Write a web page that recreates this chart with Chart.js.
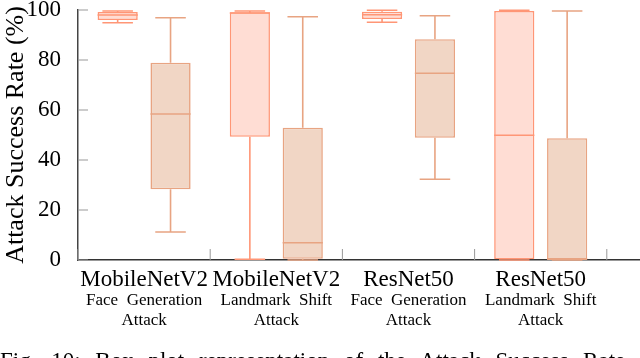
<!DOCTYPE html>
<html lang="en">
<head>
<meta charset="UTF-8">
<title>Attack Success Rate</title>
<script src="https://cdn.jsdelivr.net/npm/chart.js"></script>
<style>
  html, body { margin: 0; padding: 0; overflow: hidden; background: #fff; }
  #wrap { position: relative; width: 740px; height: 358px; }
  #caption { position: absolute; left: 0; top: 348px; font: 23px "Liberation Serif", serif; white-space: nowrap; word-spacing: 9px; line-height: 26px; }
</style>
</head>
<body>
<div id="wrap">
  <canvas id="grafico"></canvas>
  <div id="caption">Fig. 10: Box plot representation of the Attack Success Rate</div>
</div>

<script>
// categories (last one is empty, the reference is cut on the right)
const categorias = ['MobileNetV2', 'MobileNetV2', 'ResNet50', 'ResNet50', ''];
const subtitulos = [['Face  Generation', 'Attack'], ['Landmark  Shift', 'Attack'],
                    ['Face  Generation', 'Attack'], ['Landmark  Shift', 'Attack'], []];
const ticksY = [0, 20, 40, 60, 80, 100];

// left boxes
const aMin = [94.9, 0.3, 95.1, 0.0, null];
const aQ1  = [96.0, 49.3, 96.4, 0.3, null];
const aMed = [98.0, 98.8, 98.1, 49.9, null];
const aQ3  = [99.2, 99.1, 99.3, 99.6, null];
const aMax = [99.6, 99.6, 99.9, 99.9, null];

// right boxes
const bMin = [11.2, 0.0, 32.3, 0.0, null];
const bQ1  = [28.3, 0.5, 48.9, 0.0, null];
const bMed = [58.4, 6.9, 74.7, 0.5, null];
const bQ3  = [78.9, 52.9, 88.3, 48.7, null];
const bMax = [96.9, 97.3, 97.7, 99.6, null];

const caixas = (q1, q3) => q1.map((v, i) => v === null ? null : [v, q3[i]]);

const series = [
  { min: aMin, med: aMed, max: aMax, q1: aQ1, q3: aQ3, fill: '#FFDDD4', line: '#FF9676' },
  { min: bMin, med: bMed, max: bMax, q1: bQ1, q3: bQ3, fill: '#F1D6C5', line: '#E8A482' }
];

const fonte = '"Liberation Serif", "DejaVu Serif", serif';

// whiskers, medians, inward ticks, second line of x labels
const boxPlugin = {
  id: 'boxPlugin',
  afterDatasetsDraw(chart) {
    const ctx = chart.ctx;
    const y = chart.scales.y;
    const x = chart.scales.x;
    ctx.save();
    series.forEach((s, d) => {
      chart.getDatasetMeta(d).data.forEach((bar, i) => {
        if (s.min[i] === null) return;
        const cx = bar.x, w = bar.width, cap = w * 0.38;
        ctx.strokeStyle = s.line;
        ctx.lineWidth = 1.6;
        ctx.beginPath();
        ctx.moveTo(cx, y.getPixelForValue(s.q3[i]));
        ctx.lineTo(cx, y.getPixelForValue(s.max[i]));
        ctx.moveTo(cx, y.getPixelForValue(s.q1[i]));
        ctx.lineTo(cx, y.getPixelForValue(s.min[i]));
        ctx.moveTo(cx - cap, y.getPixelForValue(s.max[i]));
        ctx.lineTo(cx + cap, y.getPixelForValue(s.max[i]));
        ctx.moveTo(cx - cap, y.getPixelForValue(s.min[i]));
        ctx.lineTo(cx + cap, y.getPixelForValue(s.min[i]));
        ctx.moveTo(cx - w / 2, y.getPixelForValue(s.med[i]));
        ctx.lineTo(cx + w / 2, y.getPixelForValue(s.med[i]));
        ctx.stroke();
      });
    });

    // ticks pointing into the plot
    ctx.strokeStyle = '#999';
    ctx.lineWidth = 1;
    ctx.beginPath();
    ticksY.forEach(v => {
      const py = y.getPixelForValue(v);
      ctx.moveTo(x.left, py);
      ctx.lineTo(x.left + 10, py);
    });
    for (let i = 0; i < categorias.length; i++) {
      const px = x.getPixelForValue(i - 0.5);
      ctx.moveTo(px, y.bottom);
      ctx.lineTo(px, y.bottom - 11);
    }
    ctx.stroke();
    ctx.restore();
  },
  afterDraw(chart) {
    const ctx = chart.ctx;
    const x = chart.scales.x;
    const base = chart.scales.y.bottom;
    ctx.save();
    ctx.fillStyle = '#000';
    ctx.font = '17px ' + fonte;
    ctx.textAlign = 'center';
    ctx.textBaseline = 'middle';
    subtitulos.forEach((linhas, i) => {
      linhas.forEach((t, k) => {
        ctx.fillText(t, x.getPixelForValue(i), base + 41 + k * 20);
      });
    });
    ctx.restore();
  }
};

const ctx = document.getElementById('grafico');
ctx.width = 740;
ctx.height = 358;

new Chart(ctx, {
  type: 'bar',
  data: {
    labels: categorias,
    datasets: series.map(s => ({
      data: caixas(s.q1, s.q3),
      backgroundColor: s.fill,
      borderColor: s.line,
      borderWidth: 1.6,
      borderSkipped: false,
      categoryPercentage: 0.8,
      barPercentage: 0.76
    }))
  },
  options: {
    responsive: false,
    animation: false,
    layout: { padding: { top: 10, right: 1, left: 0, bottom: 0 } },
    plugins: { legend: { display: false }, tooltip: { enabled: false } },
    scales: {
      x: {
        grid: { display: false },
        border: { display: true, color: '#333', width: 1.5 },
        ticks: { color: '#000', font: { family: fonte, size: 23 }, padding: -2, autoSkip: false, maxRotation: 0 },
        afterFit: s => { s.height = 98; s.paddingLeft = 0; s.paddingRight = 0; }
      },
      y: {
        min: 0,
        max: 100,
        grid: { display: false },
        border: { display: true, color: '#444', width: 1.5 },
        ticks: { stepSize: 20, color: '#000', font: { family: fonte, size: 23 }, padding: 9 },
        title: { display: true, text: 'Attack Success Rate (%)', color: '#000',
                 font: { family: fonte, size: 26 }, padding: { top: 1, bottom: 0 } },
        afterFit: s => { s.width = 78; s.paddingTop = 0; s.paddingBottom = 0; }
      }
    }
  },
  plugins: [boxPlugin]
});
</script>
</body>
</html>
